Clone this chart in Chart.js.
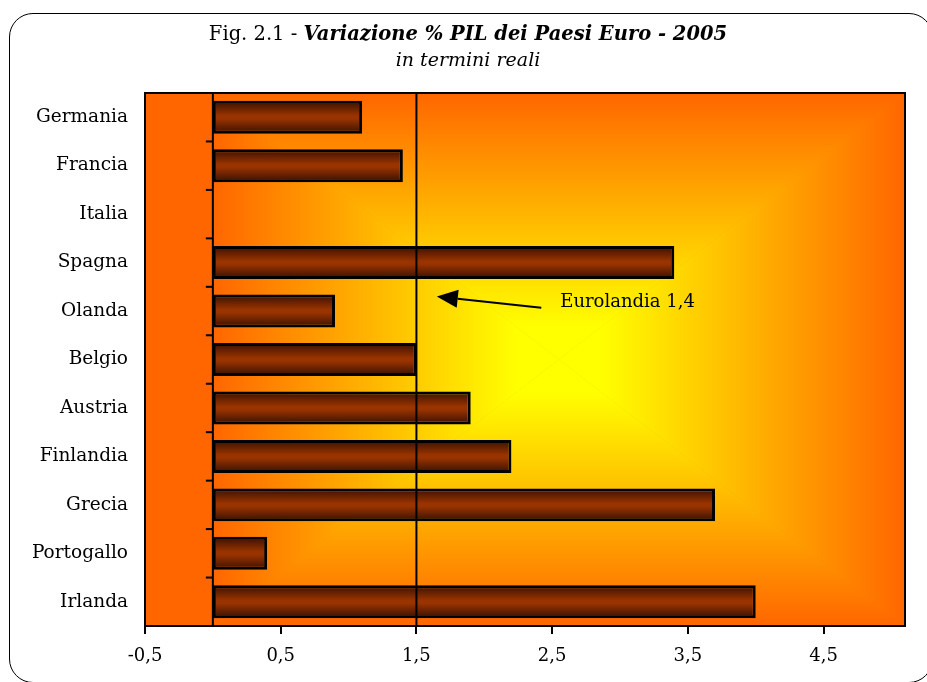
<!DOCTYPE html>
<html><head><meta charset="utf-8">
<script src="https://cdn.jsdelivr.net/npm/chart.js@4/dist/chart.umd.min.js"></script>
<style>
html,body{margin:0;padding:0;background:#fff;overflow:hidden}
#wrap{position:relative;width:927px;height:682px}
#frame{position:absolute;left:9px;top:13px;width:924px;height:670px;border:1.5px solid #000;border-radius:24px;box-sizing:border-box}
canvas{position:absolute;left:0;top:0}
</style></head><body>
<div id="wrap"><div id="frame"></div><canvas id="c" width="927" height="682"></canvas></div>
<script>
const categories = ['Germania','Francia','Italia','Spagna','Olanda','Belgio','Austria','Finlandia','Grecia','Portogallo','Irlanda'];
const growth = [1.1, 1.4, 0, 3.4, 0.9, 1.5, 1.9, 2.2, 3.7, 0.4, 4.0];
const xTicks = [-0.5, 0.5, 1.5, 2.5, 3.5, 4.5];
const euroAverage = 1.5;
const euroLabel = 'Eurolandia 1,4';
const titleLead = 'Fig. 2.1 - ';
const titleMain = 'Variazione % PIL dei Paesi Euro - 2005';
const subtitle = 'in termini reali';

const FONT = 'DejaVu Serif';

// annotation placement (value / category-index units)
const arrowTip = {x: 1.65, y: 3.70};
const arrowTail = {x: 2.42, y: 3.93};
const labelPos = {x: 2.56, y: 3.82};

const bgPlugin = {
  id: 'bg',
  beforeDraw(chart) {
    const {ctx, chartArea: a, scales: {x}} = chart;
    const x0 = x.getPixelForValue(0);
    ctx.save();
    ctx.fillStyle = '#ff6600';
    ctx.fillRect(a.left, a.top, a.right - a.left, a.bottom - a.top);
    const cx = (x0 + a.right) / 2, cy = (a.top + a.bottom) / 2;
    const sides = [
      {pts: [[x0, a.top], [a.right, a.top]], to: [cx, a.top]},
      {pts: [[a.right, a.top], [a.right, a.bottom]], to: [a.right, cy]},
      {pts: [[a.right, a.bottom], [x0, a.bottom]], to: [cx, a.bottom]},
      {pts: [[x0, a.bottom], [x0, a.top]], to: [x0, cy]}
    ];
    sides.forEach(s => {
      const g = ctx.createLinearGradient(cx, cy, s.to[0], s.to[1]);
      g.addColorStop(0, '#ffff00');
      g.addColorStop(0.12, '#ffff00');
      g.addColorStop(1, '#ff6600');
      ctx.fillStyle = g;
      ctx.beginPath();
      ctx.moveTo(cx, cy);
      ctx.lineTo(s.pts[0][0], s.pts[0][1]);
      ctx.lineTo(s.pts[1][0], s.pts[1][1]);
      ctx.closePath();
      ctx.fill();
      ctx.strokeStyle = g; ctx.lineWidth = 0.6; ctx.stroke();
    });
    ctx.restore();
  }
};

function barFill(c) {
  const el = c.element;
  const chart = c.chart;
  if (!el || !chart.chartArea) return '#993300';
  const {y, height} = el.getProps(['y', 'height'], true);
  if (!isFinite(y) || !isFinite(height) || !height) return '#993300';
  const g = chart.ctx.createLinearGradient(0, y - height / 2, 0, y + height / 2);
  g.addColorStop(0, '#361000');
  g.addColorStop(0.45, '#993300');
  g.addColorStop(0.55, '#993300');
  g.addColorStop(1, '#361000');
  return g;
}

const barPlugin = {
  id: 'barGrad',
  beforeDatasetsDraw(chart) {
    const meta = chart.getDatasetMeta(0);
    meta.data.forEach((el, i) => {
      const opts = Object.assign({}, el.options);
      opts.backgroundColor = barFill({element: el, chart: chart});
      el.options = opts;
    });
  }
};

function seg(ctx, x1, y1, x2, y2) { ctx.beginPath(); ctx.moveTo(x1, y1); ctx.lineTo(x2, y2); ctx.stroke(); }

const overlayPlugin = {
  id: 'overlay',
  afterDatasetsDraw(chart) {
    const {ctx, chartArea: a, scales: {x, y}} = chart;
    ctx.save();
    ctx.strokeStyle = '#000';
    ctx.lineWidth = 2;
    const xe = x.getPixelForValue(euroAverage);
    seg(ctx, xe, a.top, xe, a.bottom);
    const x0 = x.getPixelForValue(0);
    seg(ctx, x0, a.top, x0, a.bottom);
    for (let i = 0; i <= categories.length; i++) {
      const py = y.getPixelForValue(i - 0.5);
      seg(ctx, x0 - 7, py, x0, py);
    }
    // arrow
    const tx = x.getPixelForValue(arrowTip.x), ty = y.getPixelForValue(arrowTip.y);
    const sx = x.getPixelForValue(arrowTail.x), sy = y.getPixelForValue(arrowTail.y);
    const ang = Math.atan2(ty - sy, tx - sx);
    const hl = 21, hw = 9;
    const bx = tx - hl * Math.cos(ang), by = ty - hl * Math.sin(ang);
    seg(ctx, sx, sy, bx, by);
    ctx.fillStyle = '#000';
    ctx.beginPath();
    ctx.moveTo(tx, ty);
    ctx.lineTo(bx + hw * Math.sin(ang), by - hw * Math.cos(ang));
    ctx.lineTo(bx - hw * Math.sin(ang), by + hw * Math.cos(ang));
    ctx.closePath();
    ctx.fill();
    // label
    ctx.font = '18px "' + FONT + '"';
    ctx.textAlign = 'left';
    ctx.textBaseline = 'middle';
    ctx.fillText(euroLabel, x.getPixelForValue(labelPos.x), y.getPixelForValue(labelPos.y));
    // plot border
    ctx.strokeRect(a.left, a.top, a.right - a.left, a.bottom - a.top);
    ctx.restore();
  }
};

const titlePlugin = {
  id: 'titleMixed',
  afterDraw(chart) {
    const ctx = chart.ctx;
    ctx.save();
    ctx.fillStyle = '#000';
    ctx.textBaseline = 'alphabetic';
    ctx.textAlign = 'left';
    const f1 = '19.5px "' + FONT + '"';
    const f2 = 'italic bold 19.5px "' + FONT + '"';
    ctx.font = f1; const w1 = ctx.measureText(titleLead).width;
    ctx.font = f2; const w2 = ctx.measureText(titleMain).width;
    const cx = 468;
    let sx = cx - (w1 + w2) / 2;
    ctx.font = f1; ctx.fillText(titleLead, sx, 40);
    ctx.font = f2; ctx.fillText(titleMain, sx + w1, 40);
    ctx.font = 'italic 19px "' + FONT + '"';
    ctx.textAlign = 'center';
    ctx.fillText(subtitle, cx, 66);
    ctx.restore();
  }
};

new Chart(document.getElementById('c'), {
  type: 'bar',
  data: {
    labels: categories,
    datasets: [{
      data: growth,
      backgroundColor: '#993300',
      borderColor: '#000',
      borderWidth: 3,
      borderSkipped: false,
      barPercentage: 0.85,
      categoryPercentage: 0.8
    }]
  },
  options: {
    indexAxis: 'y',
    responsive: false,
    devicePixelRatio: 1,
    animation: false,
    layout: {padding: {top: 93, right: 22, left: 0, bottom: 0}},
    plugins: {legend: {display: false}, tooltip: {enabled: false}, title: {display: false}},
    scales: {
      x: {
        type: 'linear', min: -0.5, max: 5.1,
        afterBuildTicks: s => { s.ticks = xTicks.map(v => ({value: v})); },
        afterFit: s => { s.height = 56; },
        ticks: {
          callback: v => String(v).replace('.', ','),
          font: {family: FONT, size: 18}, color: '#000', padding: 12, maxRotation: 0
        },
        grid: {drawOnChartArea: false, drawTicks: true, tickLength: 8, color: '#000', lineWidth: 2},
        border: {display: false}
      },
      y: {
        type: 'category',
        afterFit: s => { s.width = 145; },
        ticks: {font: {family: FONT, size: 18.5}, color: '#000', padding: 17},
        grid: {display: false, drawTicks: false},
        border: {display: false}
      }
    }
  },
  plugins: [bgPlugin, barPlugin, overlayPlugin, titlePlugin]
});
</script>
</body></html>
